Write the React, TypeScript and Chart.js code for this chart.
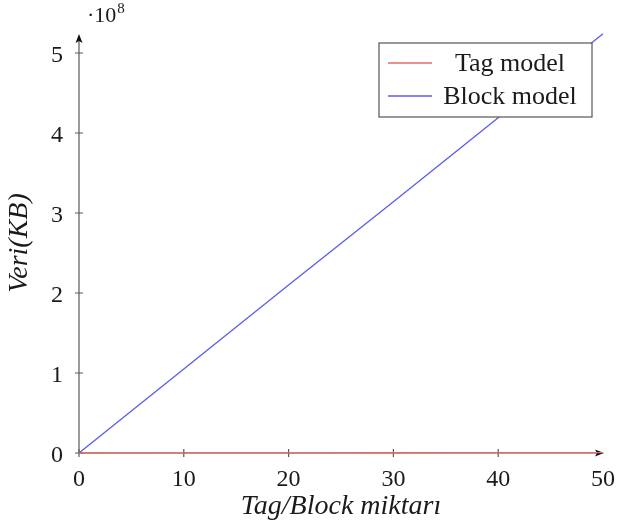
import React, { useEffect, useRef } from 'react';
import { Chart, registerables } from 'chart.js';

Chart.register(...registerables);

// ---- data ----
const xValues = [0, 10, 20, 30, 40, 50];
const tagModel = [0, 0.001e8, 0.002e8, 0.003e8, 0.004e8, 0.005e8];
const blockModel = [0, 1.05e8, 2.1e8, 3.14e8, 4.19e8, 5.24e8];
const seriesLabels = ['Tag model', 'Block model'];
const seriesColors = ['#e46a6a', '#5a5af5'];
const xTickValues = [0, 10, 20, 30, 40, 50];
const yTickValues = [0, 1e8, 2e8, 3e8, 4e8, 5e8];
const yExponent = 8;
const xTitle = 'Tag/Block miktarı';
const yTitle = 'Veri(KB)';

const FONT = '"Liberation Serif", "Times New Roman", serif';
const AXIS_COLOR = '#5a5a5a';
const TEXT_COLOR = '#1a1a1a';

const axesPlugin = {
  id: 'pgfAxes',
  beforeDatasetsDraw(chart: any) {
    const { ctx, chartArea, scales } = chart;
    const { left, right, top, bottom } = chartArea;
    ctx.save();
    ctx.strokeStyle = AXIS_COLOR;
    ctx.lineWidth = 1.2;
    // axis lines
    ctx.beginPath();
    ctx.moveTo(left, bottom);
    ctx.lineTo(right - 4, bottom);
    ctx.moveTo(left, bottom);
    ctx.lineTo(left, top + 4);
    ctx.stroke();
    // tick marks crossing the axes
    ctx.beginPath();
    for (const t of scales.x.ticks) {
      const px = scales.x.getPixelForValue(t.value);
      if (px > right - 2) continue;
      ctx.moveTo(px, bottom - 4);
      ctx.lineTo(px, bottom + 4);
    }
    for (const t of scales.y.ticks) {
      const py = scales.y.getPixelForValue(t.value);
      if (py < top + 2) continue;
      ctx.moveTo(left - 4, py);
      ctx.lineTo(left + 4, py);
    }
    ctx.stroke();
    // arrowheads
    ctx.fillStyle = '#111';
    ctx.beginPath();
    ctx.moveTo(right + 1, bottom);
    ctx.lineTo(right - 8, bottom - 3.5);
    ctx.lineTo(right - 6, bottom);
    ctx.lineTo(right - 8, bottom + 3.5);
    ctx.closePath();
    ctx.fill();
    ctx.beginPath();
    ctx.moveTo(left, top + 1);
    ctx.lineTo(left - 3.5, top + 10);
    ctx.lineTo(left, top + 8);
    ctx.lineTo(left + 3.5, top + 10);
    ctx.closePath();
    ctx.fill();
    ctx.restore();
  },
  afterDraw(chart: any) {
    const { ctx, chartArea } = chart;
    ctx.save();
    // exponent label
    ctx.fillStyle = TEXT_COLOR;
    ctx.textBaseline = 'alphabetic';
    ctx.textAlign = 'left';
    ctx.font = `22px ${FONT}`;
    ctx.fillText('·10', chartArea.left + 8, 22);
    const w = ctx.measureText('·10').width;
    ctx.font = `15px ${FONT}`;
    ctx.fillText(String(yExponent), chartArea.left + 9 + w, 13);

    // legend box
    const bx = chartArea.right - 224;
    const by = 43;
    const bw = 213;
    const bh = 74;
    ctx.fillStyle = '#fff';
    ctx.fillRect(bx, by, bw, bh);
    ctx.strokeStyle = '#555';
    ctx.lineWidth = 1.2;
    ctx.strokeRect(bx, by, bw, bh);
    chart.data.datasets.forEach((ds: any, i: number) => {
      const cy = by + 20 + i * 33;
      ctx.strokeStyle = ds.borderColor;
      ctx.lineWidth = 1.3;
      ctx.beginPath();
      ctx.moveTo(bx + 9, cy);
      ctx.lineTo(bx + 53, cy);
      ctx.stroke();
      ctx.fillStyle = TEXT_COLOR;
      ctx.font = `26px ${FONT}`;
      ctx.textAlign = 'center';
      ctx.textBaseline = 'middle';
      ctx.fillText(ds.label, bx + 131, cy + 1);
    });
    ctx.restore();
  },
};

export default function App() {
  const canvasRef = useRef<HTMLCanvasElement | null>(null);

  useEffect(() => {
    document.body.style.margin = '0';
    const canvas = canvasRef.current;
    if (!canvas) return;
    const chart = new Chart(canvas, {
      type: 'line',
      data: {
        datasets: [
          {
            label: seriesLabels[0],
            data: xValues.map((x, i) => ({ x, y: tagModel[i] })),
            borderColor: seriesColors[0],
            backgroundColor: seriesColors[0],
            borderWidth: 1.3,
            pointRadius: 0,
            fill: false,
            tension: 0,
          },
          {
            label: seriesLabels[1],
            data: xValues.map((x, i) => ({ x, y: blockModel[i] })),
            borderColor: seriesColors[1],
            backgroundColor: seriesColors[1],
            borderWidth: 1.3,
            pointRadius: 0,
            fill: false,
            tension: 0,
          },
        ],
      },
      options: {
        responsive: false,
        animation: false,
        devicePixelRatio: 1,
        clip: false,
        layout: { padding: { top: 33, right: 15, left: 0, bottom: 0 } },
        plugins: {
          legend: { display: false },
          tooltip: { enabled: false },
        },
        scales: {
          x: {
            type: 'linear',
            min: 0,
            max: 50,
            afterBuildTicks: (s: any) => {
              s.ticks = xTickValues.map((v) => ({ value: v }));
            },
            afterFit: (s: any) => {
              s.height = 78;
              s.paddingLeft = 0;
              s.paddingRight = 0;
            },
            grid: { display: false, drawTicks: false },
            border: { display: false },
            ticks: {
              color: TEXT_COLOR,
              font: { family: FONT, size: 24 },
              padding: 12,
              maxRotation: 0,
            },
            title: {
              display: true,
              text: xTitle,
              color: TEXT_COLOR,
              font: { family: FONT, size: 28, style: 'italic' },
              padding: { top: 0, bottom: 8 },
            },
          },
          y: {
            type: 'linear',
            min: 0,
            max: 5.25e8,
            afterBuildTicks: (s: any) => {
              s.ticks = yTickValues.map((v) => ({ value: v }));
            },
            afterFit: (s: any) => {
              s.width = 79;
              s.paddingTop = 0;
              s.paddingBottom = 0;
            },
            grid: { display: false, drawTicks: false },
            border: { display: false },
            ticks: {
              color: TEXT_COLOR,
              font: { family: FONT, size: 24 },
              padding: 16,
              labelOffset: 3,
              callback: (v: any) => String(Number(v) / Math.pow(10, yExponent)),
            },
            title: {
              display: true,
              text: yTitle,
              color: TEXT_COLOR,
              font: { family: FONT, size: 28, style: 'italic' },
              padding: { top: 3, bottom: 0 },
            },
          },
        },
      },
      plugins: [axesPlugin],
    } as any);
    return () => chart.destroy();
  }, []);

  return (
    <div style={{ position: 'absolute', left: 0, top: 0, width: 618, height: 531, background: '#fff' }}>
      <canvas ref={canvasRef} width={618} height={531} style={{ width: 618, height: 531 }} />
    </div>
  );
}
